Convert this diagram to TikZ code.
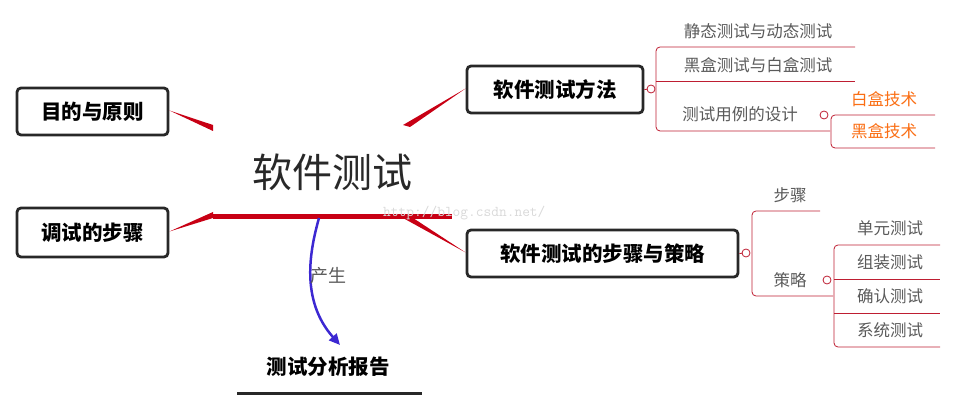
\documentclass[tikz,border=0pt]{standalone}
\usepackage{fontspec}
\setmainfont{Noto Sans CJK SC}
\usetikzlibrary{arrows.meta}
\definecolor{dred}{RGB}{200,0,20}
\definecolor{lred}{RGB}{190,30,50}
\definecolor{dgray}{RGB}{40,40,40}
\definecolor{tgray}{RGB}{90,90,90}
\definecolor{orng}{RGB}{250,110,20}
\definecolor{blu}{RGB}{60,40,210}
\tikzset{
 mainbox/.style={draw=dgray,line width=2.8pt,rounded corners=4pt,inner sep=0pt,font=\fontsize{20.5}{20.5}\selectfont\bfseries},
 leaf/.style={font=\fontsize{16.5}{16.5}\selectfont,text=tgray,inner sep=0pt},
 oleaf/.style={font=\fontsize{16.5}{16.5}\selectfont,text=orng,inner sep=0pt},
 br/.style={draw=lred,line width=0.8pt,rounded corners=4pt},
 knob/.style={circle,draw=lred,fill=white,line width=0.8pt,inner sep=0pt,minimum size=8pt},
 taper/.style={fill=dred,draw=none}
}
\begin{document}
\begin{tikzpicture}[x=1pt,y=-1pt]
\useasboundingbox (0,0) rectangle (955,411);
% boxes
\node[mainbox,minimum width=151pt,minimum height=47pt] (b1) at (92.5,111.5) {目的与原则};
\node[mainbox,minimum width=151pt,minimum height=49pt] (b2) at (92.5,232.5) {调试的步骤};
\node[mainbox,minimum width=176pt,minimum height=47pt] (b3) at (555,89.5) {软件测试方法};
\node[mainbox,minimum width=271pt,minimum height=47pt] (b4) at (602.5,253.5) {软件测试的步骤与策略};
\node[font=\fontsize{40}{40}\selectfont,text=dgray,inner sep=0pt] (c) at (332,172) {软件测试};
\coordinate (ul) at (213,217); \coordinate (ur) at (452,217);
\draw[dred,line width=5pt] (ul) -- (ur);
% tapered connectors
\fill[taper] (b1.east) ++(0,-1) -- (213,125) -- (213,131) -- ([yshift=1pt]b1.east) -- cycle;
\fill[taper] (b2.east) ++(0,-1) -- (213,212) -- (213,218) -- ([yshift=1pt]b2.east) -- cycle;
\fill[taper] (b3.west) ++(0,-1) -- (403,125) -- (410,127) -- ([yshift=1pt]b3.west) -- cycle;
\fill[taper] (b4.west) ++(0,-1) -- (410,216) -- (403,218) -- ([yshift=1pt]b4.west) -- cycle;
\node[font=\ttfamily\fontsize{15}{15}\selectfont,text=black!15,anchor=west,inner sep=0pt] (wm) at (383,213) {http://blog.csdn.net/};
% produce arrow
\node[inner sep=0pt,font=\fontsize{20.5}{20.5}\selectfont\bfseries] (rep) at (328,367) {测试分析报告};
\coordinate (rl) at (237,393); \coordinate (rr) at (422,393);
\draw[dgray,line width=3pt] (rl) -- (rr);
\coordinate (as) at (319,218);
\draw[blu,line width=2.5pt,-{Triangle[length=11pt,width=10pt]}] (as) .. controls (310,250) and (300,300) .. (340,345);
\node[font=\fontsize{18}{18}\selectfont\itshape,text=tgray,inner sep=1pt] (pl) at (328,276) {产生};
% right tree 1
\draw[br] (855,47) -- (656,47) -- (656,131) -- (830,131);
\draw[br] (656,81) -- (855,81);
\draw[lred,line width=0.8pt] (b3.east) -- (651,89);
\node[knob] (k1) at (651,89) {};
\node[leaf] (t1) at (758,31) {静态测试与动态测试};
\node[leaf] (t2) at (758,65) {黑盒测试与白盒测试};
\node[leaf] (t3) at (740,114) {测试用例的设计};
\draw[br] (935,115) -- (831,115) -- (831,148) -- (935,148);
\node[knob] (k2) at (824,115) {};
\node[oleaf] (t4) at (884,99) {白盒技术};
\node[oleaf] (t5) at (884,131) {黑盒技术};
% right tree 2
\draw[br] (820,211) -- (752,211) -- (752,296) -- (833,296);
\draw[lred,line width=0.8pt] (b4.east) -- (746,253);
\node[knob] (k3) at (746,253) {};
\node[leaf] (s1) at (790,195) {步骤};
\node[leaf] (s2) at (790,280) {策略};
\draw[br] (940,245) -- (834,245) -- (834,347) -- (940,347);
\draw[br] (834,279) -- (940,279);
\draw[br] (834,313) -- (940,313);
\node[knob] (k4) at (827,280) {};
\node[leaf] (u1) at (890,228) {单元测试};
\node[leaf] (u2) at (890,262) {组装测试};
\node[leaf] (u3) at (890,296) {确认测试};
\node[leaf] (u4) at (890,330) {系统测试};
\end{tikzpicture}
\end{document}
